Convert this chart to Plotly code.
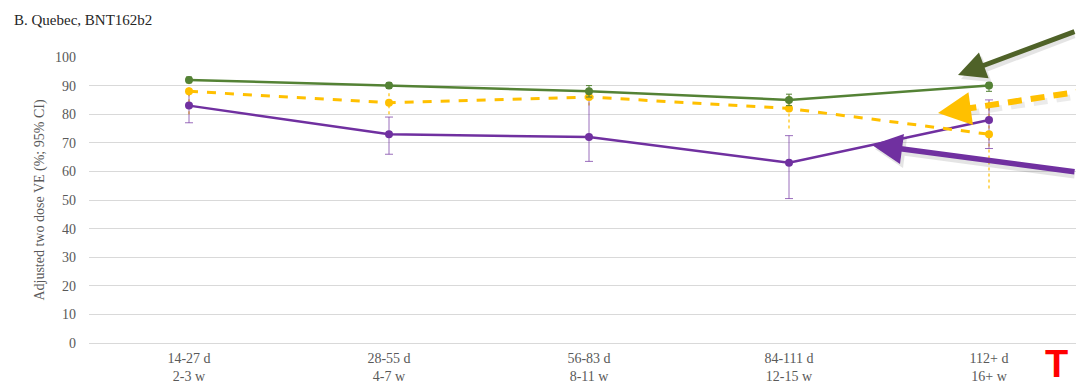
import plotly.graph_objects as go

# Time since second dose
categories = ["14-27 d<br>2-3 w", "28-55 d<br>4-7 w", "56-83 d<br>8-11 w",
              "84-111 d<br>12-15 w", "112+ d<br>16+ w"]

# Adjusted two-dose VE (%) with 95% CI per series
green_ve = [92, 90, 88, 85, 90]
green_lo = [91, 89, 86, 83, 88]
green_hi = [93, 91, 90, 87, 91]

yellow_ve = [88, 84, 86, 82, 73]
yellow_lo = [80, 80, 83, 75, 54]
yellow_hi = [93, 88, 89, 87.5, 85]

purple_ve = [83, 73, 72, 63, 78]
purple_lo = [77, 66, 63.5, 50.5, 68]
purple_hi = [88, 79, 86, 72.5, 85]

GREEN = "#548235"
YELLOW = "#FFC000"
PURPLE = "#7030A0"
SERIF = "Liberation Serif"
GREY_TXT = "#595959"

xs = list(range(len(categories)))

fig = go.Figure()

# dashed CI whiskers for the yellow series
ci_x, ci_y = [], []
for i, (lo, hi) in enumerate(zip(yellow_lo, yellow_hi)):
    ci_x += [i, i, None]
    ci_y += [lo, hi, None]
fig.add_trace(go.Scatter(x=ci_x, y=ci_y, mode="lines",
                         line=dict(color=YELLOW, width=1.2, dash="dot"),
                         hoverinfo="skip", showlegend=False))

fig.add_trace(go.Scatter(
    x=xs, y=purple_ve, mode="lines+markers",
    line=dict(color=PURPLE, width=2.5), marker=dict(size=8, color=PURPLE),
    error_y=dict(type="data", symmetric=False,
                 array=[h - v for h, v in zip(purple_hi, purple_ve)],
                 arrayminus=[v - l for l, v in zip(purple_lo, purple_ve)],
                 color="rgba(112,48,160,0.7)", thickness=1, width=4),
    showlegend=False))

fig.add_trace(go.Scatter(
    x=xs, y=yellow_ve, mode="lines+markers",
    line=dict(color=YELLOW, width=3, dash="dash"), marker=dict(size=8, color=YELLOW),
    showlegend=False))

fig.add_trace(go.Scatter(
    x=xs, y=green_ve, mode="lines+markers",
    line=dict(color=GREEN, width=2.5), marker=dict(size=8, color=GREEN),
    error_y=dict(type="data", symmetric=False,
                 array=[h - v for h, v in zip(green_hi, green_ve)],
                 arrayminus=[v - l for l, v in zip(green_lo, green_ve)],
                 color=GREEN, thickness=1, width=3),
    showlegend=False))

# plot-area pixel frame: left 89, right 1076, top 57, bottom 343
def px(xp):
    return (xp - 89) / 987.0

def py(yp):
    return (343 - yp) / 286.0

annotations = []
shapes = []

def arrow(tip, tail, color, width, shadow=True):
    if shadow:
        annotations.append(dict(
            xref="paper", yref="paper", x=px(tip[0] + 3), y=py(tip[1] + 4),
            ax=tail[0] - tip[0], ay=tail[1] - tip[1], axref="pixel", ayref="pixel",
            showarrow=True, arrowhead=2, arrowsize=1.1, arrowwidth=width,
            arrowcolor="rgba(0,0,0,0.10)", text=""))
    annotations.append(dict(
        xref="paper", yref="paper", x=px(tip[0]), y=py(tip[1]),
        ax=tail[0] - tip[0], ay=tail[1] - tip[1], axref="pixel", ayref="pixel",
        showarrow=True, arrowhead=2, arrowsize=1.1, arrowwidth=width,
        arrowcolor=color, text=""))

# green pointer
arrow((958, 75), (1090, 31), "#4F6228", 5)
# purple pointer
arrow((872, 145), (1090, 172), PURPLE, 5.5)

# dashed yellow pointer: shadow, dashed shaft, then head
shapes.append(dict(type="line", xref="paper", yref="paper",
                   x0=px(1093), y0=py(94), x1=px(962), y1=py(114),
                   line=dict(color="rgba(0,0,0,0.08)", width=6, dash="14px,9px")))
shapes.append(dict(type="line", xref="paper", yref="paper",
                   x0=px(1090), y0=py(90), x1=px(958), y1=py(110),
                   line=dict(color=YELLOW, width=6, dash="14px,9px")))
annotations.append(dict(
    xref="paper", yref="paper", x=px(938), y=py(113),
    ax=22, ay=-3, axref="pixel", ayref="pixel",
    showarrow=True, arrowhead=2, arrowsize=1.1, arrowwidth=6,
    arrowcolor=YELLOW, text=""))

# panel title
annotations.append(dict(
    xref="paper", yref="paper", x=px(12), y=py(20), xanchor="left", yanchor="middle",
    text="B. Quebec, BNT162b2", showarrow=False,
    font=dict(family=SERIF, size=15, color="#262626")))

# red letter at the lower-right corner
annotations.append(dict(
    xref="paper", yref="paper", x=px(1043), y=py(341), xanchor="left", yanchor="top",
    text="<b>T</b>", showarrow=False,
    font=dict(family="Liberation Sans", size=38, color="#FF0000")))

fig.update_layout(
    width=1076, height=385,
    margin=dict(l=89, r=0, t=57, b=42),
    paper_bgcolor="white", plot_bgcolor="white",
    font=dict(family=SERIF, size=14, color=GREY_TXT),
    annotations=annotations, shapes=shapes,
    xaxis=dict(
        range=[-0.5, 4.435], tickmode="array", tickvals=xs, ticktext=categories,
        showgrid=False, zeroline=False, showline=True, linecolor="#d9d9d9",
        linewidth=1, ticks="", ticklabelstandoff=2,
        tickfont=dict(family=SERIF, size=14, color=GREY_TXT),
        fixedrange=True),
    yaxis=dict(
        range=[0, 100], tickmode="linear", tick0=0, dtick=10,
        showgrid=True, gridcolor="#d9d9d9", gridwidth=1,
        zeroline=True, zerolinecolor="#d9d9d9", zerolinewidth=1,
        ticks="", ticklabelstandoff=12,
        tickfont=dict(family=SERIF, size=14, color=GREY_TXT),
        title=dict(text="Adjusted two dose VE (%; 95% CI)", standoff=7,
                   font=dict(family=SERIF, size=14, color=GREY_TXT)),
        fixedrange=True),
)

fig.write_html("out.html")
